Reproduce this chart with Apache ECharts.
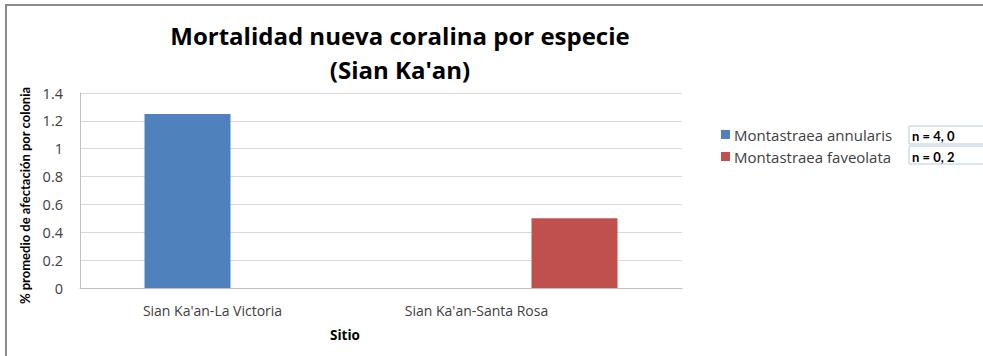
<!DOCTYPE html>
<html>
<head>
<meta charset="utf-8">
<script src="https://cdn.jsdelivr.net/npm/echarts@6/dist/echarts.min.js"></script>
<style>
html,body{margin:0;padding:0;background:#fff;}
#c{width:983px;height:356px;}
</style>
</head>
<body>
<div id="c"></div>
<script>
var categories = ["Sian Ka'an-La Victoria", "Sian Ka'an-Santa Rosa"];
var seriesNames = ["Montastraea annularis", "Montastraea faveolata"];
var annularis = [1.25, 0];
var faveolata = [0, 0.5];
var sampleNotes = ["n = 4, 0", "n = 0, 2"];
var yTicks = [0, 0.2, 0.4, 0.6, 0.8, 1, 1.2, 1.4];

var FONT = '"Open Sans", "Noto Sans", sans-serif';
var FONT2 = 'Lato, "Noto Sans", sans-serif';
var chart = echarts.init(document.getElementById('c'), null, {renderer: 'svg'});
chart.setOption({
  animation: false,
  backgroundColor: '#ffffff',
  title: {
    text: 'Mortalidad nueva coralina por especie\n(Sian Ka\'an)',
    left: 395, top: 13, textAlign: 'center',
    textStyle: {fontFamily: FONT, fontSize: 24, fontWeight: 'bold', color: '#000', lineHeight: 34}
  },
  legend: {
    orient: 'vertical', left: 716, top: 122,
    itemWidth: 9, itemHeight: 9, itemGap: 7,
    icon: 'rect',
    data: seriesNames,
    textStyle: {fontFamily: FONT, fontSize: 15, color: '#404040', padding: [0, 0, 0, -1]}
  },
  grid: {left: 80, right: 301, top: 93, bottom: 68, containLabel: false},
  xAxis: {
    type: 'category', data: categories,
    name: 'Sitio', nameLocation: 'middle', nameGap: 40,
    nameTextStyle: {fontFamily: FONT, fontSize: 13.5, fontWeight: 'bold', color: '#000', padding: [0, 72, 0, 0]},
    axisLine: {lineStyle: {color: '#bfbfbf'}},
    axisTick: {show: false},
    axisLabel: {
      margin: 15,
      formatter: function (v, i) { return '{c' + i + '|' + v + '}'; },
      rich: {
        c0: {fontFamily: FONT, fontSize: 14, color: '#404040', padding: [0, 36, 0, 0]},
        c1: {fontFamily: FONT, fontSize: 14, color: '#404040', padding: [0, 110, 0, 0]}
      }
    }
  },
  yAxis: {
    type: 'value', min: yTicks[0], max: yTicks[yTicks.length - 1], interval: 0.2,
    name: '% promedio de afectación por colonia', nameLocation: 'middle', nameGap: 45,
    nameTextStyle: {fontFamily: FONT2, fontSize: 13, fontWeight: 'bold', color: '#000', padding: [0, 10, 0, 0]},
    axisLine: {show: true, lineStyle: {color: '#bfbfbf'}},
    axisTick: {show: false},
    axisLabel: {margin: 17, fontFamily: FONT, fontSize: 14.5, color: '#404040',
      formatter: function (v) { return String(Math.round(v * 10) / 10); }},
    splitLine: {lineStyle: {color: '#d9d9d9'}}
  },
  series: [
    {name: seriesNames[0], type: 'bar', data: annularis, barGap: 0, barCategoryGap: '42.86%',
     itemStyle: {color: '#4f81bd'}},
    {name: seriesNames[1], type: 'bar', data: faveolata, barGap: 0, barCategoryGap: '42.86%',
     itemStyle: {color: '#c0504d'}}
  ],
  graphic: [
    {type: 'rect', shape: {x: 6, y: 5, width: 1100, height: 500},
     style: {fill: 'none', stroke: '#8c8c8c', lineWidth: 2}, silent: true},
    {type: 'rect', shape: {x: 909, y: 126, width: 100, height: 18},
     style: {fill: '#fff', stroke: '#b9c9da', lineWidth: 1}},
    {type: 'rect', shape: {x: 909, y: 146, width: 100, height: 18},
     style: {fill: '#fff', stroke: '#b9c9da', lineWidth: 1}},
    {type: 'text', x: 912, y: 135.5, style: {text: sampleNotes[0], fontFamily: FONT2, fontSize: 13, fontWeight: 'bold', fill: '#000', verticalAlign: 'middle'}},
    {type: 'text', x: 912, y: 157, style: {text: sampleNotes[1], fontFamily: FONT2, fontSize: 13, fontWeight: 'bold', fill: '#000', verticalAlign: 'middle'}}
  ]
});
</script>
</body>
</html>
